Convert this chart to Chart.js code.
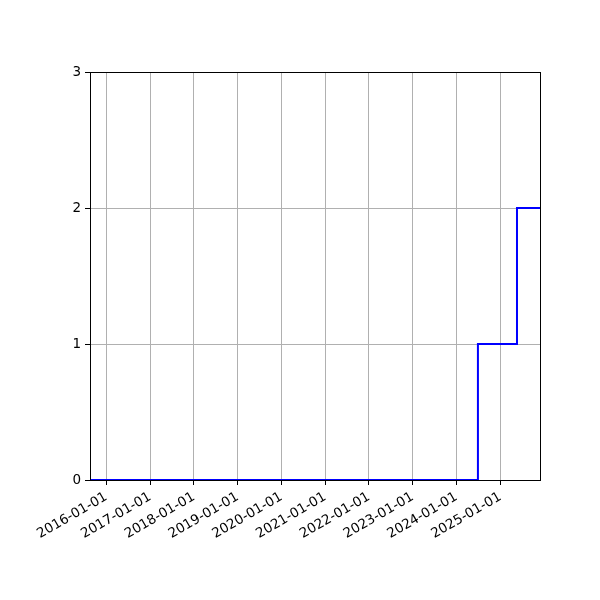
<!DOCTYPE html>
<html>
<head>
<meta charset="utf-8">
<script src="https://cdn.jsdelivr.net/npm/chart.js@4"></script>
<style>
  html, body { margin: 0; padding: 0; background: #ffffff; }
  #wrap { width: 600px; height: 600px; }
</style>
</head>
<body>
<div id="wrap"><canvas id="stepChart" width="600" height="600"></canvas></div>
<script>
// Data
const stepDates = ['2015-08-18', '2024-06-28', '2025-05-20', '2025-11-28'];
const stepCounts = [0, 1, 2, 2];
const xTickLabels = ['2016-01-01', '2017-01-01', '2018-01-01', '2019-01-01', '2020-01-01',
                     '2021-01-01', '2022-01-01', '2023-01-01', '2024-01-01', '2025-01-01'];
const yTickLabels = ['0', '1', '2', '3'];

const toTime = s => Date.parse(s + 'T00:00:00Z');
const points = stepDates.map((d, i) => ({ x: toTime(d), y: stepCounts[i] }));
const xTickValues = xTickLabels.map(toTime);

// Black frame round the plot area
const frame = {
    id: 'frame',
    afterDraw(chart) {
        const a = chart.chartArea;
        const ctx = chart.ctx;
        ctx.save();
        ctx.strokeStyle = '#000000';
        ctx.lineWidth = 1;
        ctx.strokeRect(a.left + 0.5, a.top + 0.5, a.right - a.left, a.bottom - a.top);
        ctx.restore();
    }
};

const tickFont = { family: 'DejaVu Sans', size: 13.5 };

new Chart(document.getElementById('stepChart'), {
    type: 'line',
    data: {
        datasets: [{
            data: points,
            borderColor: '#0000ff',
            borderWidth: 2,
            stepped: 'before',
            fill: false,
            pointRadius: 0,
            tension: 0
        }]
    },
    options: {
        responsive: false,
        animation: false,
        layout: { padding: { left: 0, top: 72, right: 60, bottom: 0 } },
        plugins: {
            legend: { display: false },
            tooltip: { enabled: false }
        },
        scales: {
            x: {
                type: 'linear',
                min: points[0].x,
                max: points[points.length - 1].x,
                afterBuildTicks(scale) {
                    scale.ticks = xTickValues.map(v => ({ value: v }));
                },
                afterFit(scale) { scale.height = 120; },
                grid: { color: '#b0b0b0', lineWidth: 1, tickColor: '#000000', tickLength: 5 },
                border: { color: '#000000', width: 1 },
                ticks: {
                    autoSkip: false,
                    minRotation: 30,
                    maxRotation: 30,
                    color: '#000000',
                    font: tickFont,
                    padding: 4,
                    callback: (v, i) => xTickLabels[i]
                }
            },
            y: {
                min: 0,
                max: 3,
                afterFit(scale) { scale.width = 90; },
                grid: { color: '#b0b0b0', lineWidth: 1, tickColor: '#000000', tickLength: 5 },
                border: { color: '#000000', width: 1 },
                ticks: {
                    stepSize: 1,
                    color: '#000000',
                    font: tickFont,
                    padding: 4,
                    callback: (v) => yTickLabels[v]
                }
            }
        }
    },
    plugins: [frame]
});
</script>
</body>
</html>
